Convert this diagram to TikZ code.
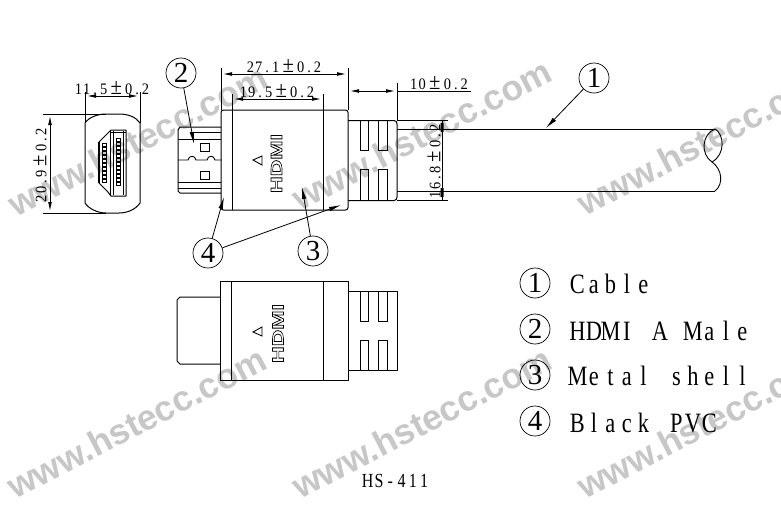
\documentclass[tikz,border=0pt]{standalone}
\usepackage{fontspec}
\usepackage{graphicx}
\usetikzlibrary{arrows.meta}
\setmainfont{Liberation Serif}
\newfontfamily\wmfont{Liberation Sans}
\newfontfamily\logofont{Liberation Sans}
\newfontfamily\narrowfont[FakeStretch=0.8]{Liberation Serif}
\newfontfamily\dimfont[FakeStretch=0.9]{Liberation Serif}
\definecolor{wmgray}{gray}{0.78}
\newlength\cellw
\makeatletter
\newcommand{\monotext}[2]{\setlength\cellw{#1}\@tfor\mc:=#2\do{\makebox[\cellw][c]{\mc}}}
\makeatother
\newcommand{\plusm}{\makebox[16.8pt][c]{\fontsize{23}{23}\selectfont ±}}
\newcommand{\dimval}[2]{\monotext{8.4pt}{#1}\plusm\monotext{8.4pt}{#2}}
\newcommand{\hdmilogo}[1]{\resizebox{#1}{11pt}{\special{pdf:code q 1 Tr 0.35 w}\logofont\bfseries HDMI\special{pdf:code Q}}}
\tikzset{
  wm/.style={text=wmgray,font=\wmfont\fontsize{35.5}{36}\selectfont\bfseries,rotate=27.5,anchor=base west,inner sep=0},
  part/.style={line width=1pt,line join=round},
  thin part/.style={line width=.9pt},
  ext/.style={line width=.8pt},
  dim/.style={line width=.8pt,shorten <=2pt,shorten >=2pt,{Latex[length=9pt,width=3.8pt]}-{Latex[length=9pt,width=3.8pt]}},
  dimo/.style={line width=.8pt},
  leader/.style={line width=.8pt,-{Latex[length=12pt,width=4.5pt]}},
  dimtext/.style={font=\dimfont\fontsize{16}{16}\selectfont,inner sep=0},
  bubble/.style={circle,draw,line width=.7pt,minimum size=30pt,inner sep=0,font=\fontsize{29}{29}\selectfont},
  legend/.style={font=\narrowfont\fontsize{28}{28}\selectfont,anchor=base west,inner sep=0},
  logo/.style={rotate=90,inner sep=0},
  pin/.style={line width=.45pt},
}
\begin{document}
\begin{tikzpicture}[x=1pt,y=-1pt]
\useasboundingbox (0,0) rectangle (781,515);
\fill[white] (0,0) rectangle (781,515);
% watermarks
\node[wm] (w1) at (16,218) {www.hstecc.com};
\node[wm] (w2) at (300,212) {www.hstecc.com};
\node[wm] (w3) at (585,217) {www.hstecc.com};
\node[wm] (w4) at (15,500) {www.hstecc.com};
\node[wm] (w5) at (300,500) {www.hstecc.com};
\node[wm] (w6) at (585,500) {www.hstecc.com};

% ===== front view =====
\draw[part] (85,123) .. controls (89,117) and (98,114) .. (106,114) -- (119,114) .. controls (128,114) and (136,117) .. (140,123)
  -- (140,203) .. controls (136,209) and (128,213) .. (119,213) -- (106,213) .. controls (98,213) and (89,209) .. (85,203) -- cycle;
\draw[part] (111,130) -- (126,130) -- (126,196) -- (111,196) -- (108,192) -- (99,183) -- (99,142) -- (108,133) -- cycle;
\draw[line width=1.4pt] (99,142) -- (99,183);
\draw[pin] (110,131) -- (110,195) (113,131) -- (113,195) (123,131) -- (123,195) (111,132) -- (126,132);
\foreach \i in {0,...,9}{\draw[pin] (102.5,{143+\i*4}) rectangle ++(3.6,3);}
\foreach \i in {0,...,11}{\draw[pin] (116.5,{138+\i*4}) rectangle ++(3.8,3);}
% dims
\coordinate (fa) at (85,96); \coordinate (fb) at (140,96);
\draw[ext] (85,123) -- (85,92) (140,123) -- (140,92);
\draw[dim] (fa) -- (fb);
\node[dimtext] (t115) at (112,88) {\dimval{11.5}{0.2}};
\coordinate (fc) at (50,114); \coordinate (fd) at (50,213);
\draw[ext] (43,114) -- (106,114) (43,213) -- (106,213);
\draw[dim] (fc) -- (fd);
\node[dimtext,rotate=90] (t209) at (40,165) {\dimval{20.9}{0.2}};

% ===== plug (top) =====
\draw[part] (221,127) -- (180,127) -- (178,130) -- (178,191) -- (180,193) -- (221,193);
\draw[thin part] (178,139) -- (221,139) (178,182) -- (221,182) (178,188) -- (221,188);
\draw[thin part] (190,132) -- (221,132);
\draw[thin part] (178,160) -- (188,160) .. controls (189,155) and (195,155) .. (196,160) -- (207,160) .. controls (208,155) and (214,155) .. (215,160) -- (221,160);
\draw[thin part] (200.5,143) rectangle (209,151.5) (200.5,171) rectangle (209,179.5);
% shell (top)
\draw[part,rounded corners=2.5pt] (221,110) rectangle (348,210);
\draw[part] (232,110) -- (232,210) (323,110) -- (323,210);
\draw[thin part] (253,160) -- (262,156) -- (262,165) -- cycle;
\node[logo] (logo1) at (276.5,163.5) {\hdmilogo{59pt}};
% relief (top)
\draw[part] (348,120.5) -- (394,120.5) .. controls (396,120.5) and (397,122) .. (397,124) -- (397,197) .. controls (397,199) and (396,200.5) .. (394,200.5) -- (348,200.5);
\draw[thin part] (360,120.5) -- (360,150) -- (368,150) -- (368,120.5) (378,120.5) -- (378,150) -- (387,150) -- (387,120.5);
\draw[thin part] (360,200.5) -- (360,169) -- (368,169) -- (368,200.5) (378,200.5) -- (378,169) -- (387,169) -- (387,200.5);
% cable
\draw[part] (397,129) -- (715,129) (397,191) -- (715,191);
\draw[thin part] (715,129) .. controls (724,134) and (726,154) .. (712,162) .. controls (700,154) and (702,134) .. (715,129);
\draw[thin part] (712,162) .. controls (722,169) and (724,184) .. (715,191);
% dims top
\draw[ext] (221,110) -- (221,68) (348,110) -- (348,68) (232,110) -- (232,94) (323,110) -- (323,94);
\coordinate (a1) at (221,74); \coordinate (a2) at (348,74);
\draw[dim] (a1) -- (a2);
\node[dimtext] (t271) at (284,66) {\dimval{27.1}{0.2}};
\coordinate (b1) at (232,99); \coordinate (b2) at (323,99);
\draw[dim] (b1) -- (b2);
\node[dimtext] (t195) at (277,91) {\dimval{19.5}{0.2}};
\coordinate (c1) at (348,91); \coordinate (c2) at (397,91); \coordinate (c3) at (471,91);
\draw[ext] (397,83) -- (397,121);
\draw[dim] (c1) -- (c2);
\draw[dimo] (c2) -- (c3);
\node[dimtext] (t10) at (439,83) {\dimval{10}{0.2}};
\draw[ext] (397,120.5) -- (448,120.5) (397,200.5) -- (448,200.5);
\draw[dimo] (442,120.5) -- (442,200.5);
\fill (440.5,123) rectangle (443.5,132) (440.5,188) rectangle (443.5,197);
\node[dimtext,rotate=90] (t168) at (434,161) {\dimval{16.8}{0.2}};

% ===== side view =====
\draw[part] (220,297) -- (180,297) -- (177,300) -- (177,361) -- (180,364) -- (220,364);
\draw[part] (220,281) rectangle (348,380);
\draw[part] (231,281) -- (231,380) (323,281) -- (323,380);
\draw[thin part] (253,332) -- (262,327) -- (262,336) -- cycle;
\node[logo] (logo2) at (278,333.5) {\hdmilogo{59pt}};
\draw[part] (348,291) -- (397,291) -- (397,370) -- (348,370);
\draw[thin part] (360,291) -- (360,321) -- (368,321) -- (368,291) (378,291) -- (378,321) -- (387,321) -- (387,291);
\draw[thin part] (360,370) -- (360,340) -- (368,340) -- (368,370) (378,370) -- (378,340) -- (387,340) -- (387,370);

% ===== callouts =====
\node[bubble] (n1) at (594,78) {1};
\node[bubble] (n2) at (181,73) {2};
\node[bubble] (n3) at (313,251) {3};
\node[bubble] (n4) at (208,253) {4};
\coordinate (p1) at (546,128);
\coordinate (p2) at (194,144);
\coordinate (p3) at (302,187);
\coordinate (p4a) at (224,197);
\coordinate (p4b) at (341,205);
\draw[leader] (n1) -- (p1);
\draw[leader] (n2) -- (p2);
\draw[leader] (n3) -- (p3);
\draw[leader] (n4) -- (p4a);
\draw[leader] (n4) -- (p4b);

% ===== legend =====
\node[bubble] (l1) at (535,283) {1};
\node[bubble] (l2) at (535,329) {2};
\node[bubble] (l3) at (535,375) {3};
\node[bubble] (l4) at (535,421) {4};
\node[legend] (lt1) at (569,293) {\monotext{16.5pt}{Cable}};
\node[legend] (lt2) at (569,340) {\monotext{16.5pt}{HDMI~A~Male}};
\node[legend] (lt3) at (569,385) {\monotext{16.5pt}{Metal~shell}};
\node[legend] (lt4) at (569,432) {\monotext{16.5pt}{Black~PVC}};
\node[font=\narrowfont\fontsize{20}{20}\selectfont,inner sep=0] (title) at (396,481) {\monotext{11.3pt}{HS-411}};
\end{tikzpicture}
\end{document}
